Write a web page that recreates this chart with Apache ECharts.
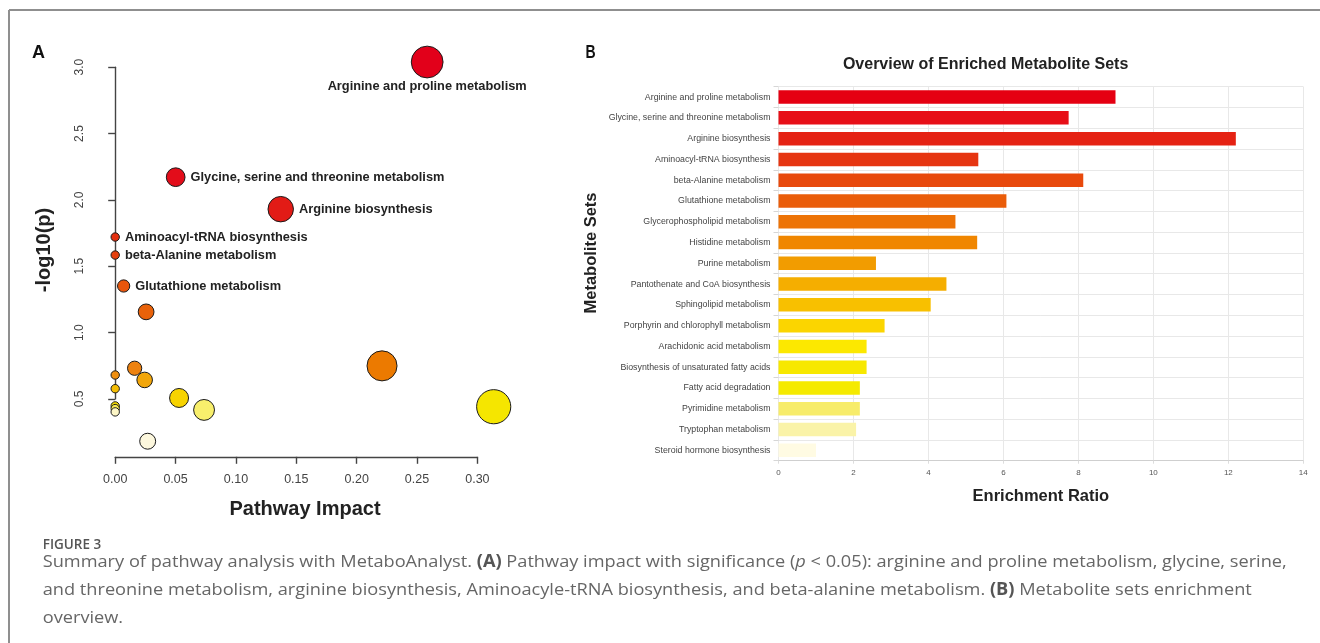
<!DOCTYPE html>
<html>
<head>
<meta charset="utf-8">
<script src="https://cdn.jsdelivr.net/npm/echarts@6/dist/echarts.min.js"></script>
<style>
  html, body { margin: 0; padding: 0; background: #ffffff; }
  #chart { width: 1320px; height: 643px; }
</style>
</head>
<body>
<div id="chart"></div>
<script>
// ---------- Panel A: pathway impact vs significance ----------
const pathwayLabels = [
  'Arginine and proline metabolism',
  'Glycine, serine and threonine metabolism',
  'Arginine biosynthesis',
  'Aminoacyl-tRNA biosynthesis',
  'beta-Alanine metabolism',
  'Glutathione metabolism',
  '', '', '', '', '', '', '', '', '', '', '', '', ''
];
const pathwayImpact = [
  0.2584, 0.0501, 0.1371, 0.0, 0.0, 0.0070, 0.0256, 0.2210, 0.0161, 0.0,
  0.0244, 0.0, 0.0529, 0.0, 0.3135, 0.0, 0.0736, 0.0, 0.0269
];
const pathwayLogP = [
  3.039, 2.171, 1.930, 1.720, 1.584, 1.351, 1.156, 0.749, 0.731, 0.680,
  0.643, 0.577, 0.507, 0.447, 0.441, 0.427, 0.417, 0.402, 0.181
];
const impactTicks = [0.00, 0.05, 0.10, 0.15, 0.20, 0.25, 0.30];
const logPTicks = [0.5, 1.0, 1.5, 2.0, 2.5, 3.0];

// heat palette, one fill per bubble (most significant = red)
const bubbleColors = [
  '#e2001a', '#e30d1a', '#e21b16', '#e3300f', '#e6400e', '#e8560c', '#e9620a',
  '#ec7a00', '#ed8210', '#ef8f10', '#f2a60a', '#f4bd05', '#f7d300', '#f3dc00',
  '#f5e600', '#f7ea55', '#f8ef6c', '#fcf6c6', '#fdf8de'
];

// ---------- Panel B: metabolite set enrichment ----------
const metaboliteSets = [
  'Arginine and proline metabolism',
  'Glycine, serine and threonine metabolism',
  'Arginine biosynthesis',
  'Aminoacyl-tRNA biosynthesis',
  'beta-Alanine metabolism',
  'Glutathione metabolism',
  'Glycerophospholipid metabolism',
  'Histidine metabolism',
  'Purine metabolism',
  'Pantothenate and CoA biosynthesis',
  'Sphingolipid metabolism',
  'Porphyrin and chlorophyll metabolism',
  'Arachidonic acid metabolism',
  'Biosynthesis of unsaturated fatty acids',
  'Fatty acid degradation',
  'Pyrimidine metabolism',
  'Tryptophan metabolism',
  'Steroid hormone biosynthesis'
];
const enrichmentRatio = [
  8.99, 7.74, 12.2, 5.33, 8.13, 6.08, 4.72, 5.30, 2.60,
  4.48, 4.06, 2.83, 2.35, 2.35, 2.17, 2.17, 2.07, 1.00
];
const ratioTicks = [0, 2, 4, 6, 8, 10, 12, 14];

const barColors = [
  '#e50012', '#e70f17', '#e52213', '#e63511', '#e8490c', '#ea5d0a',
  '#ed7306', '#f08600', '#f29c00', '#f5ae00', '#f8c000', '#fbd500',
  '#fce800', '#f7e800', '#f5ea00', '#f7ec6a', '#faf3a8', '#fffbe3'
];

// ---------- layout ----------
const SANS = '"Liberation Sans", Arial, sans-serif';
const CAP = '"Open Sans", sans-serif';
const A = { left: 115.2, right: 477.4, top: 67.2, bottom: 398.9, yAxisX: 96.8, xAxisY: 456.8 };
const B = { left: 778.5, right: 1303.3, top: 86.7, bottom: 460.7 };

// bubble radius grows with the square root of pathway impact
function bubbleRadius(impact) { return 4.2 + 23 * Math.sqrt(impact); }

const scatterData = pathwayImpact.map((imp, i) => {
  const item = {
    value: [imp, pathwayLogP[i]],
    name: pathwayLabels[i],
    itemStyle: { color: bubbleColors[i] }
  };
  if (pathwayLabels[i]) {
    item.label = {
      show: true,
      position: i === 0 ? 'bottom' : 'right',
      distance: i === 0 ? 2 : 5,
      formatter: '{b}',
      fontFamily: SANS,
      fontWeight: 'bold',
      fontSize: 12.8,
      color: '#222'
    };
  }
  return item;
});

const chart = echarts.init(document.getElementById('chart'), null, { renderer: 'canvas' });

chart.setOption({
  animation: false,
  backgroundColor: '#ffffff',
  grid: [
    { left: A.left, top: A.top, width: A.right - A.left, height: A.bottom - A.top, containLabel: false },
    { left: B.left, top: B.top, width: B.right - B.left, height: B.bottom - B.top, containLabel: false }
  ],
  xAxis: [
    {
      gridIndex: 0, type: 'value',
      min: impactTicks[0], max: impactTicks[impactTicks.length - 1],
      interval: impactTicks[1] - impactTicks[0],
      offset: A.xAxisY - A.bottom,
      axisLine: { show: true, lineStyle: { color: '#444', width: 1.4 } },
      axisTick: { show: true, length: 7, lineStyle: { color: '#444', width: 1.4 } },
      axisLabel: { margin: 16, fontFamily: SANS, fontSize: 12.5, color: '#444',
        formatter: v => v.toFixed(2) },
      splitLine: { show: false }
    },
    {
      gridIndex: 1, type: 'value',
      min: ratioTicks[0], max: ratioTicks[ratioTicks.length - 1],
      interval: ratioTicks[1] - ratioTicks[0],
      name: 'Enrichment Ratio', nameLocation: 'middle', nameGap: 27,
      nameTextStyle: { fontFamily: SANS, fontWeight: 'bold', fontSize: 16.5, color: '#222' },
      axisLine: { show: true, lineStyle: { color: '#cfcfcf', width: 1 } },
      axisTick: { show: true, length: 3, lineStyle: { color: '#dddddd' } },
      axisLabel: { margin: 8, fontFamily: SANS, fontSize: 8, color: '#555' },
      splitLine: { show: true, lineStyle: { color: '#e8e8e8', width: 1 } }
    }
  ],
  yAxis: [
    {
      gridIndex: 0, type: 'value',
      min: logPTicks[0], max: logPTicks[logPTicks.length - 1],
      interval: logPTicks[1] - logPTicks[0],
      offset: A.left - A.yAxisX,
      axisLine: { show: true, lineStyle: { color: '#444', width: 1.4 } },
      axisTick: { show: true, length: 7, lineStyle: { color: '#444', width: 1.4 } },
      axisLabel: { margin: 11, rotate: 90, fontFamily: SANS, fontSize: 12, color: '#444',
        formatter: v => v.toFixed(1) },
      splitLine: { show: false }
    },
    {
      gridIndex: 1, type: 'category', inverse: true,
      data: metaboliteSets,
      axisLine: { show: false },
      axisTick: { show: true, length: 5, lineStyle: { color: '#d6d6d6' } },
      axisLabel: { margin: 8, fontFamily: SANS, fontSize: 8.8, color: '#444' },
      splitLine: { show: true, lineStyle: { color: '#e8e8e8', width: 1 } }
    }
  ],
  series: [
    {
      type: 'scatter',
      xAxisIndex: 0, yAxisIndex: 0,
      clip: false,
      data: scatterData,
      symbol: 'circle',
      symbolSize: val => 2 * bubbleRadius(val[0]),
      itemStyle: { borderColor: '#1a1a1a', borderWidth: 1, opacity: 1 },
      emphasis: { disabled: true }
    },
    {
      type: 'bar',
      xAxisIndex: 1, yAxisIndex: 1,
      barWidth: 13.5,
      data: enrichmentRatio.map((v, i) => ({
        value: v,
        itemStyle: { color: barColors[i] }
      })),
      emphasis: { disabled: true }
    }
  ],
  graphic: [
    // figure frame
    { type: 'line', silent: true, shape: { x1: 9, y1: 10, x2: 1320, y2: 10 },
      style: { stroke: '#8f8f8f', lineWidth: 2 } },
    { type: 'line', silent: true, shape: { x1: 9, y1: 10, x2: 9, y2: 643 },
      style: { stroke: '#8f8f8f', lineWidth: 2 } },
    // panel letters
    { type: 'text', x: 32, y: 53, style: { text: 'A', font: 'bold 18px ' + SANS,
      fill: '#111', textVerticalAlign: 'middle' } },
    { type: 'text', x: 585.5, y: 53.5, scaleX: 0.78, style: { text: 'B', font: 'bold 18px ' + SANS,
      fill: '#111', textVerticalAlign: 'middle' } },
    // panel A axis titles
    { type: 'text', x: 305, y: 509, style: { text: 'Pathway Impact', font: 'bold 20px ' + SANS,
      fill: '#222', textAlign: 'center', textVerticalAlign: 'middle' } },
    { type: 'text', x: 44.6, y: 250, rotation: Math.PI / 2, style: { text: '-log10(p)',
      font: 'bold 20px ' + SANS, fill: '#222', textAlign: 'center', textVerticalAlign: 'middle' } },
    // panel B title and y title
    { type: 'text', x: 985.6, y: 64.3, style: { text: 'Overview of Enriched Metabolite Sets',
      font: 'bold 16px ' + SANS, fill: '#222', textAlign: 'center', textVerticalAlign: 'middle' } },
    { type: 'text', x: 591.8, y: 253, rotation: Math.PI / 2, style: { text: 'Metabolite Sets',
      font: 'bold 16.5px ' + SANS, fill: '#222', textAlign: 'center', textVerticalAlign: 'middle' } },
    // caption
    { type: 'text', x: 42.7, y: 545, style: { text: 'FIGURE 3', font: '600 13.5px ' + CAP,
      fill: '#555', textVerticalAlign: 'middle' } },
    { type: 'text', x: 42.7, y: 562.5, scaleX: 1.07, style: {
      text: 'Summary of pathway analysis with MetaboAnalyst. {b|(A)} Pathway impact with significance ({i|p} < 0.05): arginine and proline metabolism, glycine, serine,',
      font: '17px ' + CAP, fill: '#666', textVerticalAlign: 'middle',
      rich: { b: { font: 'bold 17px ' + CAP, fill: '#555' },
              i: { font: 'italic 17px ' + CAP, fill: '#666' } } } },
    { type: 'text', x: 42.7, y: 590.5, scaleX: 1.07, style: {
      text: 'and threonine metabolism, arginine biosynthesis, Aminoacyle-tRNA biosynthesis, and beta-alanine metabolism. {b|(B)} Metabolite sets enrichment',
      font: '17px ' + CAP, fill: '#666', textVerticalAlign: 'middle',
      rich: { b: { font: 'bold 17px ' + CAP, fill: '#555' } } } },
    { type: 'text', x: 42.7, y: 618.5, scaleX: 1.07, style: { text: 'overview.',
      font: '17px ' + CAP, fill: '#666', textVerticalAlign: 'middle' } }
  ]
});
</script>
</body>
</html>
